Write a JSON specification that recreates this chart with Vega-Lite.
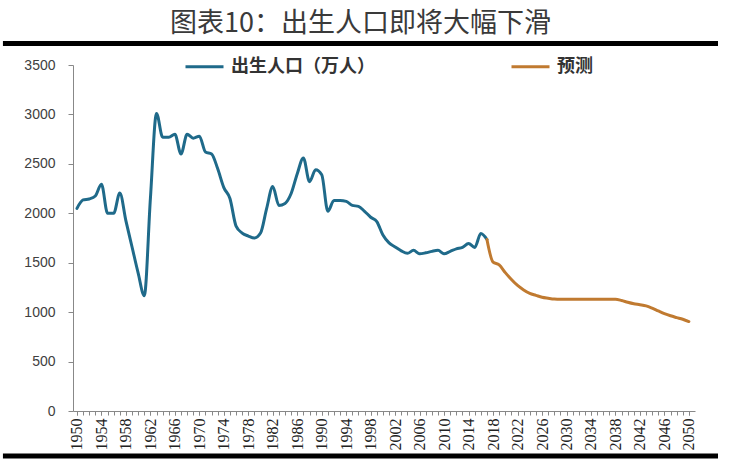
{
  "$schema": "https://vega.github.io/schema/vega-lite/v6.json",
  "autosize": {"type": "none"},
  "padding": {"left": 73, "top": 65, "right": 37, "bottom": 49},
  "width": 622,
  "height": 346,
  "background": "white",
  "title": {
    "text": "图表10：出生人口即将大幅下滑",
    "font": "Noto Sans CJK SC",
    "fontSize": 27,
    "fontWeight": "normal",
    "color": "#3a3a3a",
    "anchor": "middle",
    "frame": "bounds",
    "offset": 3
  },
  "data": {
    "values": [
      {"year": 1950, "value": 2050, "series": "出生人口（万人）"},
      {"year": 1951, "value": 2135, "series": "出生人口（万人）"},
      {"year": 1952, "value": 2145, "series": "出生人口（万人）"},
      {"year": 1953, "value": 2175, "series": "出生人口（万人）"},
      {"year": 1954, "value": 2294, "series": "出生人口（万人）"},
      {"year": 1955, "value": 2000, "series": "出生人口（万人）"},
      {"year": 1956, "value": 2000, "series": "出生人口（万人）"},
      {"year": 1957, "value": 2205, "series": "出生人口（万人）"},
      {"year": 1958, "value": 1923, "series": "出生人口（万人）"},
      {"year": 1959, "value": 1659, "series": "出生人口（万人）"},
      {"year": 1960, "value": 1395, "series": "出生人口（万人）"},
      {"year": 1961, "value": 1167, "series": "出生人口（万人）"},
      {"year": 1962, "value": 2150, "series": "出生人口（万人）"},
      {"year": 1963, "value": 3010, "series": "出生人口（万人）"},
      {"year": 1964, "value": 2770, "series": "出生人口（万人）"},
      {"year": 1965, "value": 2770, "series": "出生人口（万人）"},
      {"year": 1966, "value": 2800, "series": "出生人口（万人）"},
      {"year": 1967, "value": 2600, "series": "出生人口（万人）"},
      {"year": 1968, "value": 2800, "series": "出生人口（万人）"},
      {"year": 1969, "value": 2760, "series": "出生人口（万人）"},
      {"year": 1970, "value": 2780, "series": "出生人口（万人）"},
      {"year": 1971, "value": 2620, "series": "出生人口（万人）"},
      {"year": 1972, "value": 2600, "series": "出生人口（万人）"},
      {"year": 1973, "value": 2450, "series": "出生人口（万人）"},
      {"year": 1974, "value": 2260, "series": "出生人口（万人）"},
      {"year": 1975, "value": 2150, "series": "出生人口（万人）"},
      {"year": 1976, "value": 1870, "series": "出生人口（万人）"},
      {"year": 1977, "value": 1800, "series": "出生人口（万人）"},
      {"year": 1978, "value": 1770, "series": "出生人口（万人）"},
      {"year": 1979, "value": 1750, "series": "出生人口（万人）"},
      {"year": 1980, "value": 1800, "series": "出生人口（万人）"},
      {"year": 1981, "value": 2050, "series": "出生人口（万人）"},
      {"year": 1982, "value": 2270, "series": "出生人口（万人）"},
      {"year": 1983, "value": 2080, "series": "出生人口（万人）"},
      {"year": 1984, "value": 2100, "series": "出生人口（万人）"},
      {"year": 1985, "value": 2200, "series": "出生人口（万人）"},
      {"year": 1986, "value": 2400, "series": "出生人口（万人）"},
      {"year": 1987, "value": 2560, "series": "出生人口（万人）"},
      {"year": 1988, "value": 2320, "series": "出生人口（万人）"},
      {"year": 1989, "value": 2440, "series": "出生人口（万人）"},
      {"year": 1990, "value": 2390, "series": "出生人口（万人）"},
      {"year": 1991, "value": 2020, "series": "出生人口（万人）"},
      {"year": 1992, "value": 2130, "series": "出生人口（万人）"},
      {"year": 1993, "value": 2130, "series": "出生人口（万人）"},
      {"year": 1994, "value": 2120, "series": "出生人口（万人）"},
      {"year": 1995, "value": 2080, "series": "出生人口（万人）"},
      {"year": 1996, "value": 2070, "series": "出生人口（万人）"},
      {"year": 1997, "value": 2020, "series": "出生人口（万人）"},
      {"year": 1998, "value": 1960, "series": "出生人口（万人）"},
      {"year": 1999, "value": 1916, "series": "出生人口（万人）"},
      {"year": 2000, "value": 1780, "series": "出生人口（万人）"},
      {"year": 2001, "value": 1700, "series": "出生人口（万人）"},
      {"year": 2002, "value": 1660, "series": "出生人口（万人）"},
      {"year": 2003, "value": 1620, "series": "出生人口（万人）"},
      {"year": 2004, "value": 1595, "series": "出生人口（万人）"},
      {"year": 2005, "value": 1625, "series": "出生人口（万人）"},
      {"year": 2006, "value": 1590, "series": "出生人口（万人）"},
      {"year": 2007, "value": 1600, "series": "出生人口（万人）"},
      {"year": 2008, "value": 1615, "series": "出生人口（万人）"},
      {"year": 2009, "value": 1625, "series": "出生人口（万人）"},
      {"year": 2010, "value": 1590, "series": "出生人口（万人）"},
      {"year": 2011, "value": 1615, "series": "出生人口（万人）"},
      {"year": 2012, "value": 1640, "series": "出生人口（万人）"},
      {"year": 2013, "value": 1655, "series": "出生人口（万人）"},
      {"year": 2014, "value": 1695, "series": "出生人口（万人）"},
      {"year": 2015, "value": 1655, "series": "出生人口（万人）"},
      {"year": 2016, "value": 1795, "series": "出生人口（万人）"},
      {"year": 2017, "value": 1735, "series": "出生人口（万人）"},
      {"year": 2017, "value": 1735, "series": "预测"},
      {"year": 2018, "value": 1505, "series": "预测"},
      {"year": 2019, "value": 1478, "series": "预测"},
      {"year": 2020, "value": 1400, "series": "预测"},
      {"year": 2021, "value": 1330, "series": "预测"},
      {"year": 2022, "value": 1270, "series": "预测"},
      {"year": 2023, "value": 1225, "series": "预测"},
      {"year": 2024, "value": 1190, "series": "预测"},
      {"year": 2025, "value": 1170, "series": "预测"},
      {"year": 2026, "value": 1150, "series": "预测"},
      {"year": 2027, "value": 1140, "series": "预测"},
      {"year": 2028, "value": 1132, "series": "预测"},
      {"year": 2029, "value": 1130, "series": "预测"},
      {"year": 2030, "value": 1130, "series": "预测"},
      {"year": 2031, "value": 1130, "series": "预测"},
      {"year": 2032, "value": 1130, "series": "预测"},
      {"year": 2033, "value": 1130, "series": "预测"},
      {"year": 2034, "value": 1130, "series": "预测"},
      {"year": 2035, "value": 1130, "series": "预测"},
      {"year": 2036, "value": 1130, "series": "预测"},
      {"year": 2037, "value": 1130, "series": "预测"},
      {"year": 2038, "value": 1130, "series": "预测"},
      {"year": 2039, "value": 1118, "series": "预测"},
      {"year": 2040, "value": 1100, "series": "预测"},
      {"year": 2041, "value": 1085, "series": "预测"},
      {"year": 2042, "value": 1075, "series": "预测"},
      {"year": 2043, "value": 1063, "series": "预测"},
      {"year": 2044, "value": 1040, "series": "预测"},
      {"year": 2045, "value": 1012, "series": "预测"},
      {"year": 2046, "value": 985, "series": "预测"},
      {"year": 2047, "value": 963, "series": "预测"},
      {"year": 2048, "value": 945, "series": "预测"},
      {"year": 2049, "value": 928, "series": "预测"},
      {"year": 2050, "value": 905, "series": "预测"}
    ]
  },
  "resolve": {"axis": {"x": "independent", "y": "independent"}},
  "layer": [
    {
      "mark": {"type": "line", "interpolate": "monotone", "strokeWidth": 3, "strokeCap": "round", "strokeJoin": "round"},
      "encoding": {
        "x": {
          "field": "year",
          "type": "quantitative",
          "scale": {"domain": [1949.35, 2051], "nice": false, "zero": false},
          "axis": {
            "title": null,
            "orient": "bottom",
            "values": [1950,1954,1958,1962,1966,1970,1974,1978,1982,1986,1990,1994,1998,2002,2006,2010,2014,2018,2022,2026,2030,2034,2038,2042,2046,2050],
            "format": "d",
            "labelOverlap": false,
            "labelAngle": 270,
            "labelAlign": "right",
            "labelBaseline": "middle",
            "labelFont": "Liberation Serif",
            "labelFontSize": 16,
            "labelColor": "#222222",
            "labelPadding": 3,
            "tickSize": 4,
            "tickColor": "#888888",
            "domainColor": "#888888",
            "grid": false
          }
        },
        "y": {
          "field": "value",
          "type": "quantitative",
          "scale": {"domain": [0, 3500], "nice": false},
          "axis": {
            "title": null,
            "orient": "left",
            "values": [0, 500, 1000, 1500, 2000, 2500, 3000, 3500],
            "format": "d",
            "labelFont": "Liberation Sans",
            "labelFontSize": 14,
            "labelColor": "#404040",
            "labelPadding": 13,
            "tickSize": 5,
            "tickColor": "#888888",
            "domainColor": "#888888",
            "grid": false
          }
        },
        "color": {
          "field": "series",
          "type": "nominal",
          "scale": {"domain": ["出生人口（万人）", "预测"], "range": ["#1F6A8A", "#C07A30"]},
          "legend": {
            "title": null,
            "orient": "none",
            "direction": "horizontal",
            "legendX": 111,
            "legendY": -19,
            "symbolType": "stroke",
            "symbolSize": 1444,
            "symbolStrokeWidth": 3,
            "labelFont": "Noto Sans CJK SC",
            "labelFontSize": 18,
            "labelFontWeight": "bold",
            "labelColor": "#333333",
            "labelOffset": 6,
            "columnPadding": 130,
            "labelLimit": 300
          }
        }
      }
    },
    {
      "data": {"values": [{}]},
      "mark": {"type": "rule", "color": "black", "strokeWidth": 5},
      "encoding": {
        "x": {
          "datum": 1937.9,
          "type": "quantitative",
          "axis": {
            "title": null,
            "orient": "bottom",
            "values": [1950,1951,1952,1953,1954,1955,1956,1957,1958,1959,1960,1961,1962,1963,1964,1965,1966,1967,1968,1969,1970,1971,1972,1973,1974,1975,1976,1977,1978,1979,1980,1981,1982,1983,1984,1985,1986,1987,1988,1989,1990,1991,1992,1993,1994,1995,1996,1997,1998,1999,2000,2001,2002,2003,2004,2005,2006,2007,2008,2009,2010,2011,2012,2013,2014,2015,2016,2017,2018,2019,2020,2021,2022,2023,2024,2025,2026,2027,2028,2029,2030,2031,2032,2033,2034,2035,2036,2037,2038,2039,2040,2041,2042,2043,2044,2045,2046,2047,2048,2049,2050],
            "labels": false,
            "domain": false,
            "grid": false,
            "tickSize": 4,
            "tickColor": "#888888"
          }
        },
        "x2": {"datum": 2054.76},
        "y": {"datum": 3717, "type": "quantitative", "axis": null}
      }
    },
    {
      "data": {"values": [{}]},
      "mark": {"type": "rule", "color": "black", "strokeWidth": 5},
      "encoding": {
        "x": {"datum": 1937.9, "type": "quantitative", "axis": null},
        "x2": {"datum": 2054.76},
        "y": {"datum": -455, "type": "quantitative", "axis": null}
      }
    }
  ],
  "config": {
    "view": {"stroke": null},
    "axis": {"labelOverlap": false}
  }
}
